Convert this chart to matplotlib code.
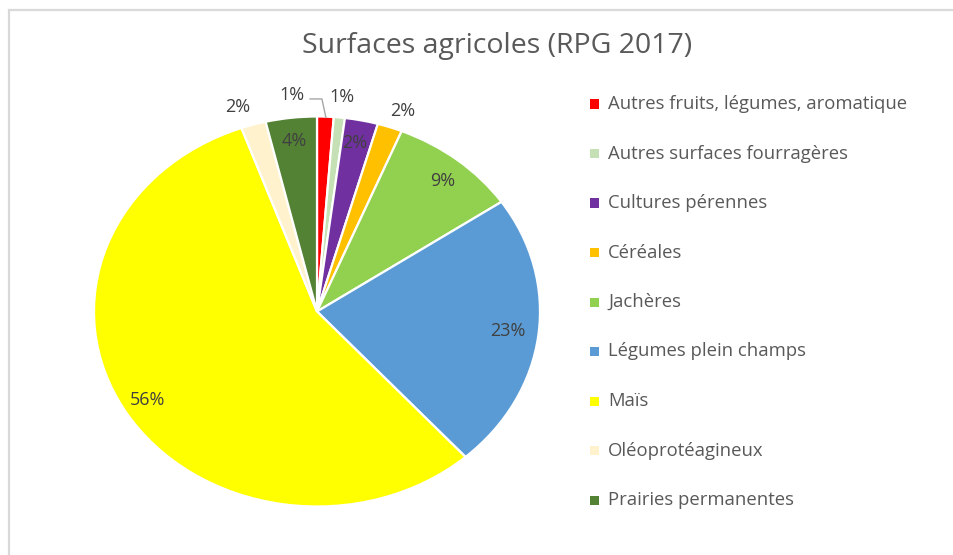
import matplotlib
matplotlib.use("Agg")
import matplotlib.pyplot as plt
from matplotlib.patches import Rectangle
from matplotlib.lines import Line2D

plt.rcParams['font.family'] = ['Open Sans', 'DejaVu Sans']

title = "Surfaces agricoles (RPG 2017)"
categories = ["Autres fruits, légumes, aromatique", "Autres surfaces fourragères",
              "Cultures pérennes", "Céréales", "Jachères", "Légumes plein champs",
              "Maïs", "Oléoprotéagineux", "Prairies permanentes"]
values = [1.2, 0.8, 2.4, 1.8, 9.3, 22.9, 56.1, 1.8, 3.7]
pct_labels = ["1%", "1%", "2%", "2%", "9%", "23%", "56%", "2%", "4%"]
colors = ["#FF0000", "#C5E0B4", "#7030A0", "#FFC000", "#92D050",
          "#5B9BD5", "#FFFF00", "#FFF2CC", "#548235"]

# label positions (data coords, pie radius = 1)
label_pos = [(-0.112, 1.110), (0.112, 1.100), (0.170, 0.864), (0.386, 1.028),
             (0.565, 0.669), (0.857, -0.100), (-0.758, -0.454), (-0.354, 1.049),
             (-0.103, 0.874)]

W, H = 954, 555
fig = plt.figure(figsize=(W / 100, H / 100), dpi=100)

# outer frame (only left/top visible)
fig.patches.append(Rectangle((9 / W, -0.1), 1.2, (H - 10) / H + 0.1,
                             transform=fig.transFigure, fill=False,
                             edgecolor="#D9D9D9", linewidth=1.6))

cx, cy, rx, ry = 317, 311.5, 223, 195
aw, ah = 2.5 * rx, 2.5 * ry
ax = fig.add_axes([(cx - aw / 2) / W, (H - cy - ah / 2) / H, aw / W, ah / H])
wedges, _ = ax.pie(values, colors=colors, startangle=90, counterclock=False,
                   wedgeprops=dict(edgecolor="white", linewidth=1.6))
ax.set_aspect('auto')
ax.set_xlim(-1.25, 1.25)
ax.set_ylim(-1.25, 1.25)
ax.axis('off')

for (x, y), t in zip(label_pos, pct_labels):
    ax.text(x, y, t, ha='center', va='center', fontsize=13, color="#404040")

# leader line for first label
ax.add_line(Line2D([-0.031, 0.022, 0.040], [1.090, 1.090, 0.995],
                   color="#A6A6A6", linewidth=1.0))

fig.text(497 / W, 1 - 46 / H, title, ha='center', va='center',
         fontsize=20.5, color="#595959")

# legend
y0, dy = 104, 49.5
for i, (c, name) in enumerate(zip(colors, categories)):
    py = y0 + i * dy
    fig.patches.append(Rectangle(((595 - 4.5) / W, 1 - (py + 4.5) / H), 9 / W, 9 / H,
                                 transform=fig.transFigure, facecolor=c,
                                 edgecolor='none'))
    fig.text(608 / W, 1 - py / H, name, ha='left', va='center',
             fontsize=13.3, color="#595959")

fig.savefig("out.png", dpi=100, facecolor="white")
